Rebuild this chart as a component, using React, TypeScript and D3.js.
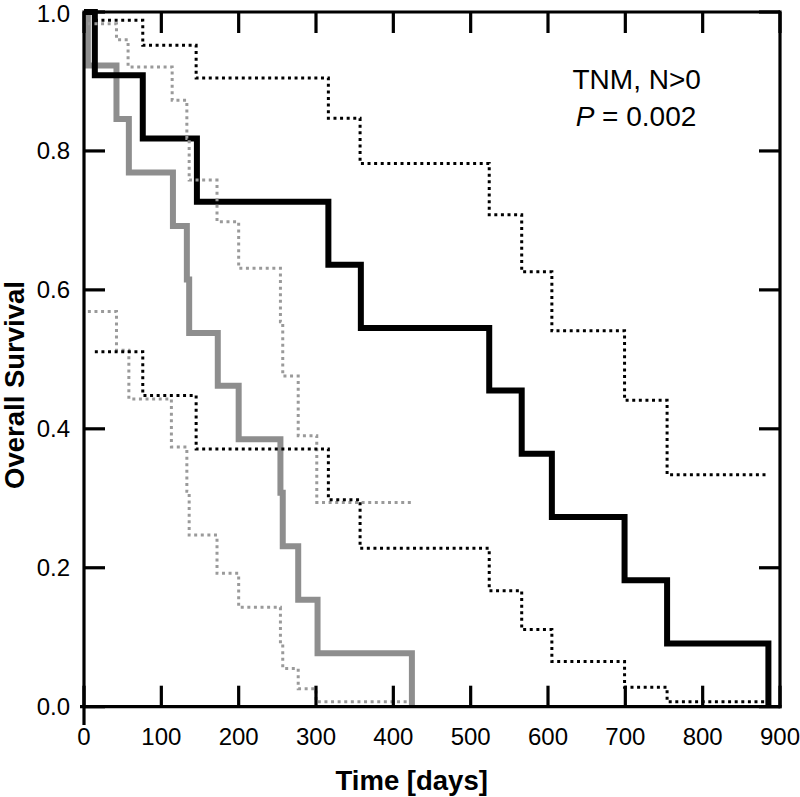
import React from "react";
import * as d3 from "d3";

// Kaplan-Meier group 1 (black)
const blackTimes = [0, 14, 76, 146, 316, 358, 524, 566, 605, 699, 754, 885];
const blackSurv = [1, 0.909, 0.818, 0.727, 0.636, 0.545, 0.455, 0.364, 0.273, 0.182, 0.091, 0];
const blackUpperTimes = [14, 76, 145, 316, 357, 524, 566, 605, 699, 754, 884];
const blackUpper = [0.988, 0.952, 0.905, 0.847, 0.782, 0.708, 0.626, 0.541, 0.441, 0.334, 0.334];
const blackLowerTimes = [14, 76, 145, 316, 357, 524, 566, 605, 699, 754, 881];
const blackLower = [0.511, 0.448, 0.371, 0.298, 0.228, 0.167, 0.111, 0.065, 0.028, 0.007, 0.007];

// Kaplan-Meier group 2 (gray)
const grayTimes = [0, 5, 42, 58, 115, 133, 136, 173, 200, 254, 257, 277, 302, 424];
const graySurv = [1, 0.923, 0.846, 0.769, 0.692, 0.615, 0.538, 0.462, 0.385, 0.308, 0.231, 0.154, 0.077, 0];
const grayUpperTimes = [5, 42, 57, 114, 133, 136, 172, 200, 254, 257, 277, 301, 423];
const grayUpper = [0.983, 0.96, 0.921, 0.873, 0.818, 0.758, 0.698, 0.631, 0.554, 0.476, 0.39, 0.294, 0.294];
const grayLowerTimes = [5, 42, 58, 113, 133, 136, 172, 200, 254, 257, 277, 300, 418];
const grayLower = [0.569, 0.513, 0.443, 0.374, 0.31, 0.247, 0.192, 0.143, 0.09, 0.055, 0.026, 0.007, 0.007];

const xTicks = [0, 100, 200, 300, 400, 500, 600, 700, 800, 900];
const yTicks = [0, 0.2, 0.4, 0.6, 0.8, 1.0];
const annotation1 = "TNM, N>0";
const annotationP = "P";
const annotationPValue = " = 0.002";
const xTitle = "Time [days]";
const yTitle = "Overall Survival";

const W = 800;
const H = 797;
const left = 84;
const right = 780;
const top = 12;
const bottom = 706.7;
const tickLen = 21;
const font = "'Liberation Sans', Arial, Helvetica, sans-serif";

export default function App() {
  const x = d3.scaleLinear().domain([0, 900]).range([left, right]);
  const y = d3.scaleLinear().domain([0, 1]).range([bottom, top]);
  const line = d3
    .line<[number, number]>()
    .x((d) => x(d[0]))
    .y((d) => y(d[1]))
    .curve(d3.curveStepAfter);
  const zip = (t: number[], s: number[]) => t.map((v, i) => [v, s[i]] as [number, number]);

  const dotted = { fill: "none", strokeWidth: 3, strokeDasharray: "3 3.6" };

  return (
    <svg width={W} height={H} style={{ position: "absolute", left: 0, top: 0, background: "#fff" }}>
      {/* curves */}
      <path d={line(zip(grayTimes, graySurv)) || ""} fill="none" stroke="#8e8e8e" strokeWidth={6} />
      <path d={line(zip(blackTimes, blackSurv)) || ""} fill="none" stroke="#000" strokeWidth={6} />
      <path d={line(zip(grayUpperTimes, grayUpper)) || ""} stroke="#9a9a9a" {...dotted} />
      <path d={line(zip(grayLowerTimes, grayLower)) || ""} stroke="#9a9a9a" {...dotted} />
      <path d={line(zip(blackUpperTimes, blackUpper)) || ""} stroke="#000" {...dotted} />
      <path d={line(zip(blackLowerTimes, blackLower)) || ""} stroke="#000" {...dotted} />

      {/* frame */}
      <g stroke="#000" strokeWidth={3.2} fill="none">
        <line x1={left} y1={top} x2={right} y2={top} />
        <line x1={right} y1={top - 1.6} x2={right} y2={bottom + 1.6} />
        <line x1={80} y1={bottom} x2={right + 1.6} y2={bottom} />
        <line x1={left} y1={top - 1.6} x2={left} y2={725} />
        {xTicks.map((t) => (
          <g key={"xt" + t}>
            <line x1={x(t)} x2={x(t)} y1={bottom} y2={bottom - tickLen} />
            <line x1={x(t)} x2={x(t)} y1={top} y2={top + tickLen} />
          </g>
        ))}
        {yTicks.map((t) => (
          <g key={"yt" + t}>
            <line x1={left} x2={left + tickLen} y1={y(t)} y2={y(t)} />
            <line x1={right} x2={right - tickLen} y1={y(t)} y2={y(t)} />
          </g>
        ))}
      </g>

      {/* tick labels */}
      <g fontFamily={font} fontSize={24} fill="#000">
        {xTicks.map((t) => (
          <text key={"xl" + t} x={x(t)} y={745} textAnchor="middle">
            {t}
          </text>
        ))}
        {yTicks.map((t) => (
          <text key={"yl" + t} x={70} y={Math.max(y(t), 14)} dy="0.35em" textAnchor="end">
            {d3.format(".1f")(t)}
          </text>
        ))}
      </g>

      {/* titles */}
      <text x={411.7} y={790} textAnchor="middle" fontFamily={font} fontSize={27.5} fontWeight="bold">
        {xTitle}
      </text>
      <text
        transform={`translate(24,385) rotate(-90)`}
        textAnchor="middle"
        fontFamily={font}
        fontSize={27.5}
        fontWeight="bold"
      >
        {yTitle}
      </text>

      {/* annotation */}
      <g fontFamily={font} fontSize={28} fill="#000" textAnchor="middle">
        <text x={636.7} y={89}>
          {annotation1}
        </text>
        <text x={636} y={126}>
          <tspan fontStyle="italic">{annotationP}</tspan>
          <tspan>{annotationPValue}</tspan>
        </text>
      </g>
    </svg>
  );
}
